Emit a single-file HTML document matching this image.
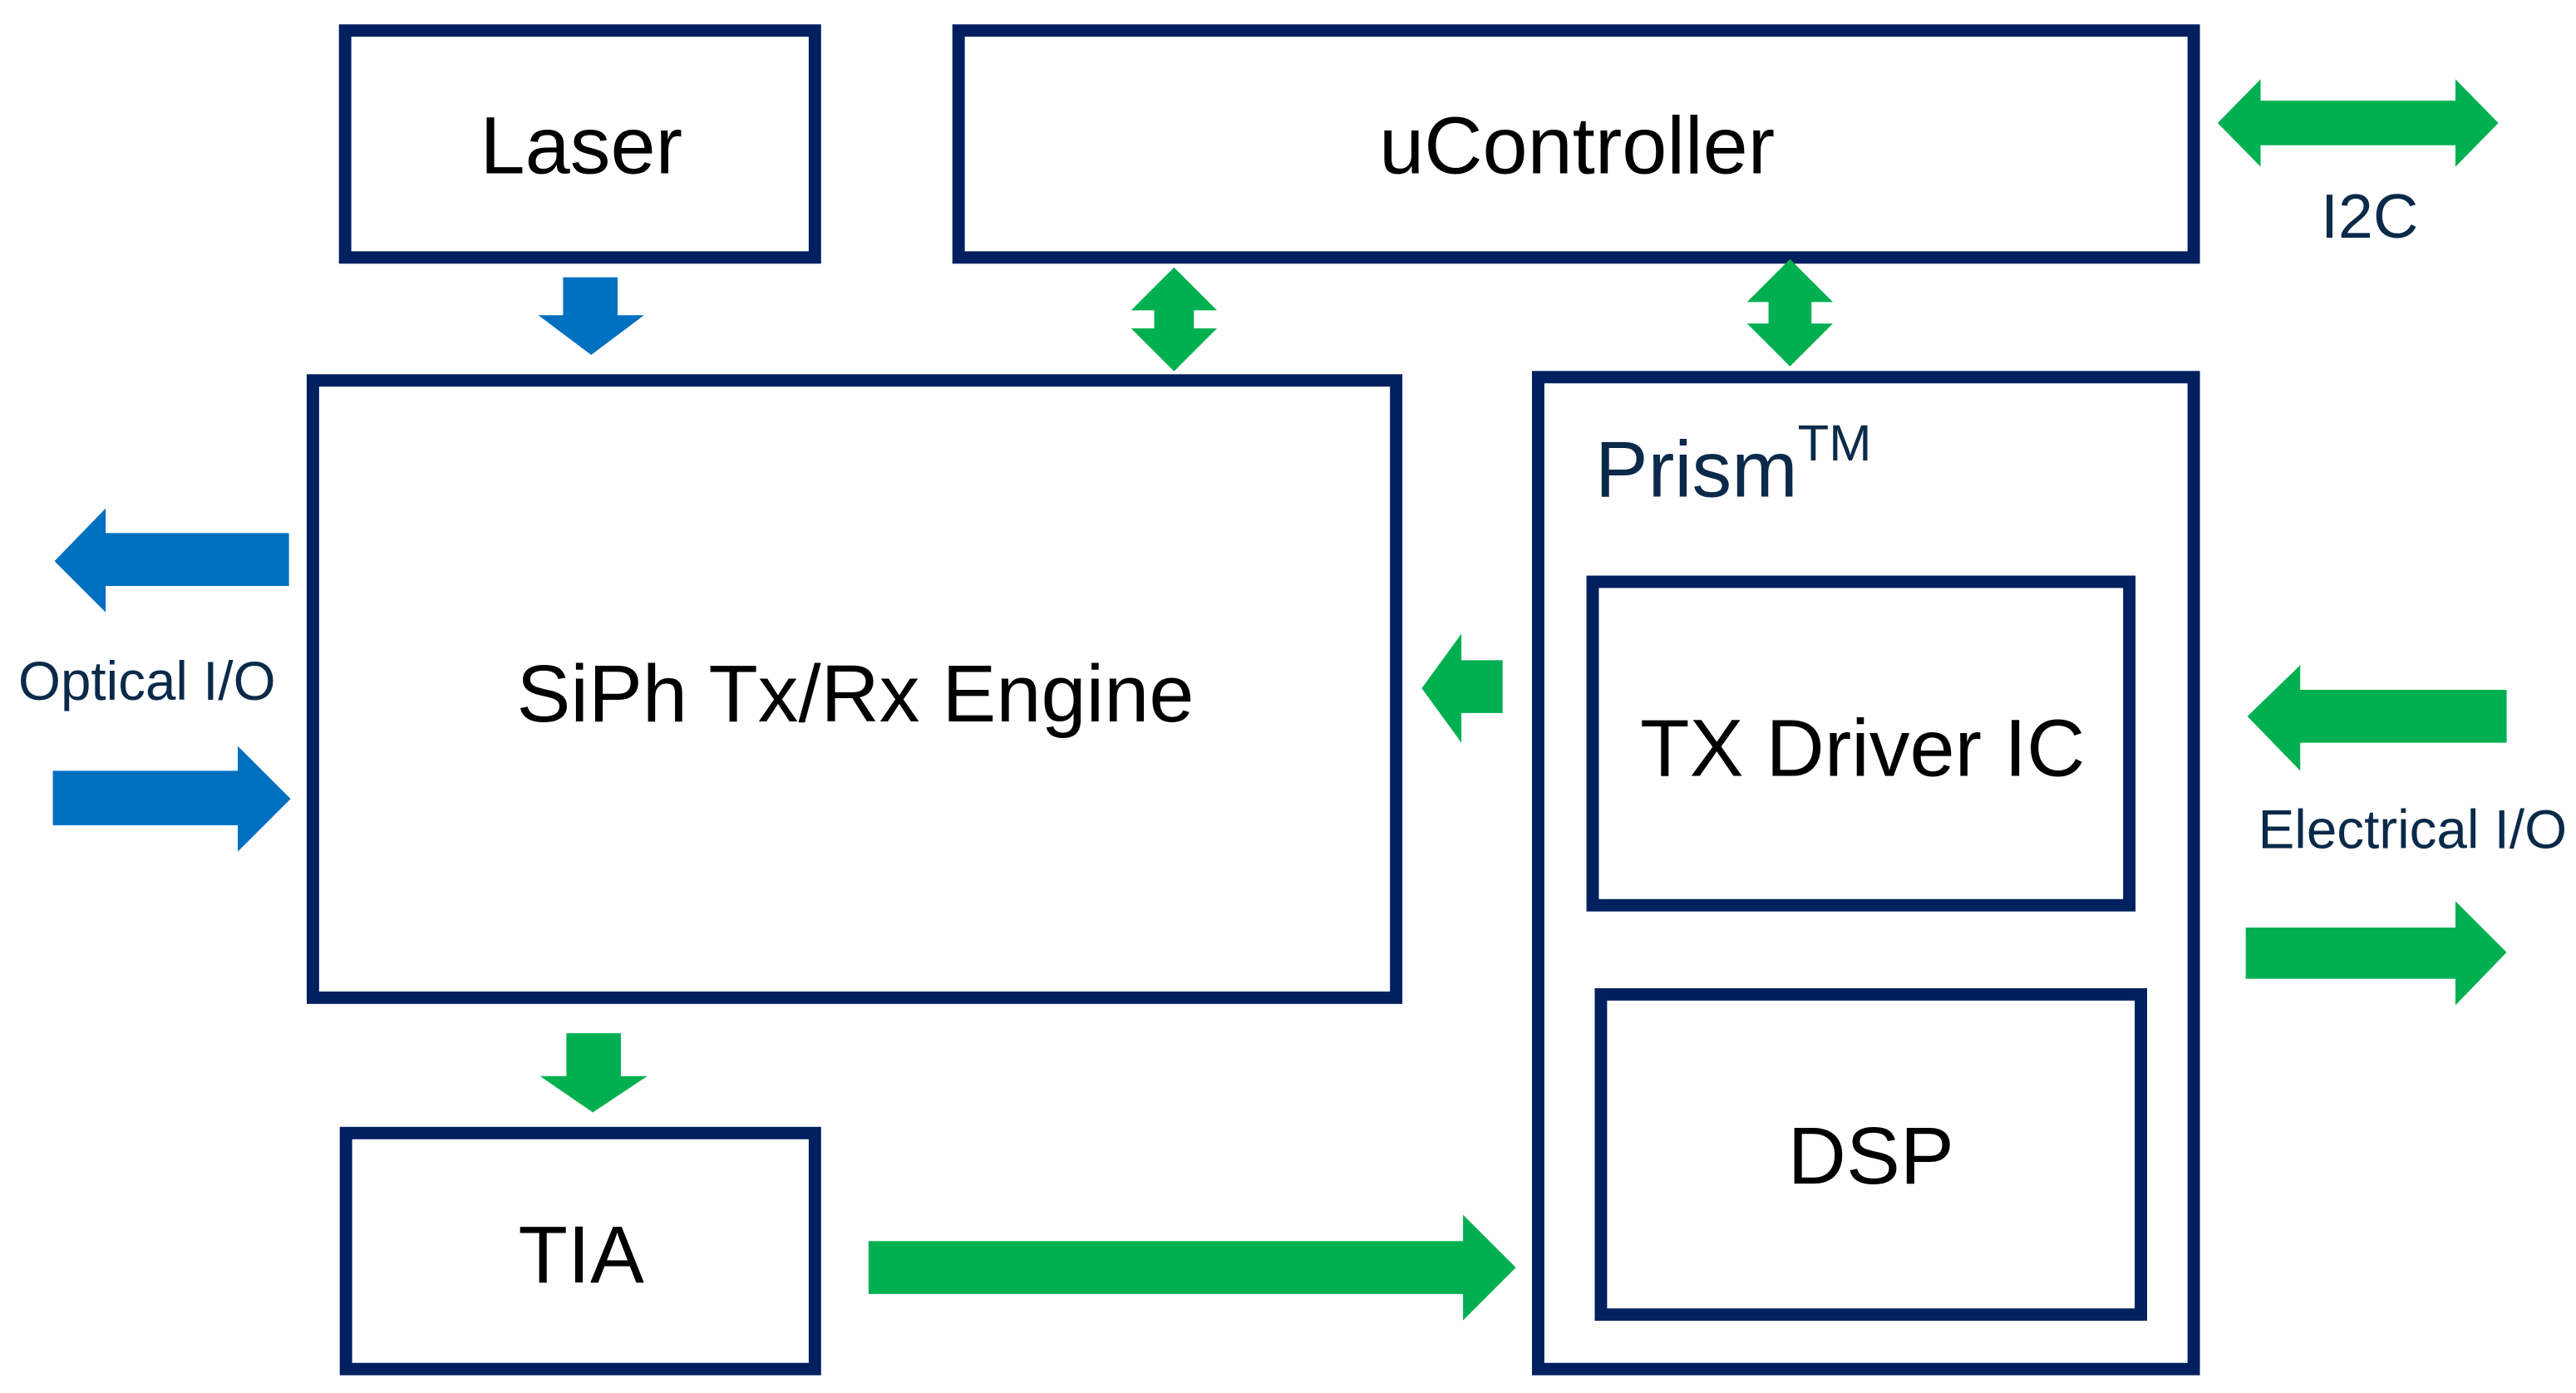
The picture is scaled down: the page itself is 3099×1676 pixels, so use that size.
<!DOCTYPE html>
<html><head><meta charset="utf-8"><style>
html,body{margin:0;padding:0;background:#fff;}
svg{display:block;}
text{font-family:"Liberation Sans",Arial,sans-serif;}
</style></head><body>
<svg width="3099" height="1676" viewBox="0 0 1560 844" preserveAspectRatio="none" xmlns="http://www.w3.org/2000/svg">
<rect width="1560" height="844" fill="#fff"/>
<g fill="none" stroke="#002060" stroke-width="7.5">
<rect x="209" y="18.5" width="284.5" height="137.5"/>
<rect x="580.5" y="18.5" width="748" height="137.5"/>
<rect x="189.5" y="230.5" width="656" height="374"/>
<rect x="209.5" y="686.5" width="284" height="143"/>
<rect x="931.5" y="228.5" width="397" height="601"/>
<rect x="964.5" y="352.5" width="325" height="196"/>
<rect x="969.5" y="602.5" width="327" height="194"/>
</g>
<g fill="#0070c0">
<polygon points="341,168 374,168 374,191 390,191 358,215 326,191 341,191"/>
<polygon points="175,323 64,323 64,308 33,340 64,371 64,355 175,355"/>
<polygon points="32,467 144,467 144,452 176,484 144,516 144,500 32,500"/>
</g>
<g fill="#00b050">
<polygon points="711,162 737,188 723,188 723,199 737,199 711,225 685,199 699,199 699,188 685,188"/>
<polygon points="1084,157 1110,183 1097,183 1097,196 1110,196 1084,222 1058,196 1071,196 1071,183 1058,183"/>
<polygon points="1343,74.5 1369,48 1369,61 1487,61 1487,48 1513,74.5 1487,101 1487,88 1369,88 1369,101"/>
<polygon points="910,400 885,400 885,384 861,417 885,450 885,432 910,432"/>
<polygon points="1518,418 1393,418 1393,403 1361,434 1393,467 1393,450 1518,450"/>
<polygon points="1360,562 1487,562 1487,546 1518,577 1487,609 1487,593 1360,593"/>
<polygon points="526,752 886,752 886,736 918,768 886,800 886,784 526,784"/>
<polygon points="343,626 376,626 376,652 392,652 359,674 327,652 343,652"/>
</g>
<g fill="#000" text-anchor="middle" font-size="49">
<text x="352" y="105">Laser</text>
<text x="955" y="105">uController</text>
<text x="518" y="437">SiPh Tx/Rx Engine</text>
<text x="1128" y="470">TX Driver IC</text>
<text x="1133" y="717">DSP</text>
<text x="352" y="777">TIA</text>
</g>
<g fill="#0b2a4a">
<text x="966" y="301" font-size="48">Prism<tspan font-size="31" dy="-22">TM</tspan></text>
<text x="1435" y="144" font-size="38" text-anchor="middle">I2C</text>
<text x="89" y="424" font-size="33" text-anchor="middle">Optical I/O</text>
<text x="1461" y="514" font-size="33" text-anchor="middle">Electrical I/O</text>
</g>
</svg>
</body></html>
